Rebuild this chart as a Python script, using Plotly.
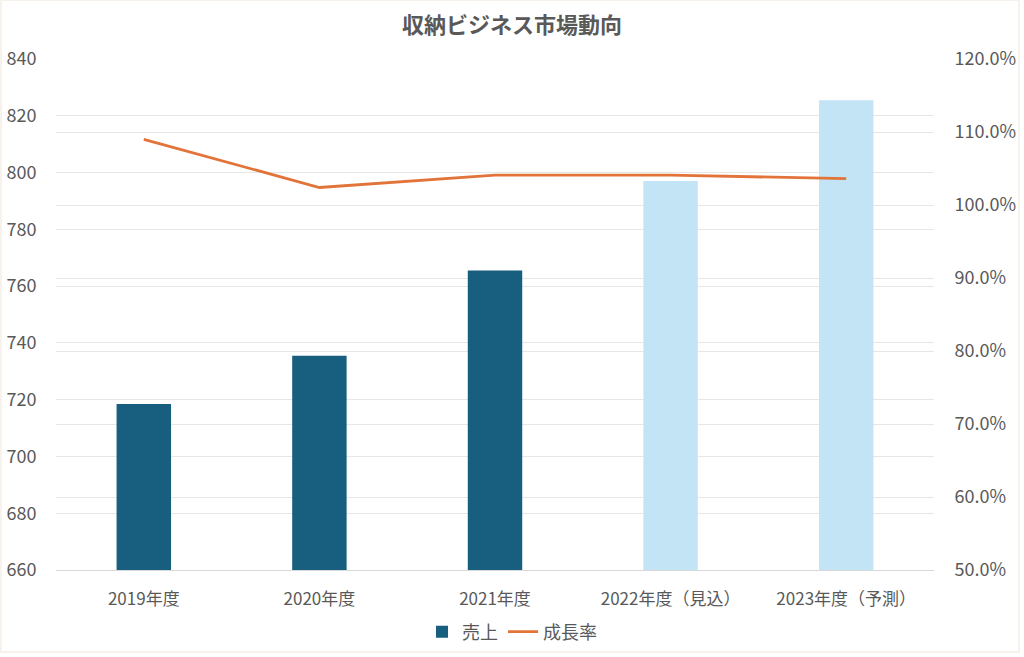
import plotly.graph_objects as go

categories = ["2019年度", "2020年度", "2021年度", "2022年度（見込）", "2023年度（予測）"]
sales = [718.5, 735.5, 765.5, 797, 825.5]
growth = [109.0, 102.4, 104.1, 104.1, 103.6]
bar_colors = ["#175E7F", "#175E7F", "#175E7F", "#C3E4F5", "#C3E4F5"]
left_ticks = [660, 680, 700, 720, 740, 760, 780, 800, 820, 840]
right_ticks = [50, 60, 70, 80, 90, 100, 110, 120]
right_ticktext = [f"{v:.1f}%" for v in right_ticks]

FONT = "Noto Sans CJK JP"
GRAY = "#595959"

fig = go.Figure()
fig.add_trace(go.Bar(
    x=categories, y=sales, name="売上",
    marker=dict(color=bar_colors, line=dict(width=0)),
    yaxis="y",
))
fig.add_trace(go.Scatter(
    x=categories, y=growth, name="成長率", mode="lines",
    line=dict(color="#E2743A", width=2.8),
    yaxis="y2",
))

L, R, T, B = 56, 90, 59, 87
pw = 1024 - L - R
ph = 657 - T - B

fig.update_layout(
    width=1024, height=657,
    margin=dict(l=L, r=R, t=T, b=B, autoexpand=False),
    paper_bgcolor="white", plot_bgcolor="white",
    font=dict(family=FONT, color=GRAY),
    bargap=0.69,
    showlegend=True,
    title=dict(text="収納ビジネス市場動向", x=0.5, xref="container", xanchor="center",
               y=1 - 25 / 657, yref="container", yanchor="middle",
               font=dict(family=FONT, size=22, color=GRAY, weight="bold")),
    xaxis=dict(showgrid=False, tickfont=dict(size=17, color=GRAY),
               showline=True, linecolor="#D9D9D9", linewidth=1, automargin=False,
               ticks="outside", ticklen=14, tickcolor="rgba(0,0,0,0)"),
    yaxis=dict(range=[660, 840], tickvals=left_ticks, showgrid=True,
               gridcolor="#E6E6E6", gridwidth=1, zeroline=False, automargin=False,
               tickfont=dict(size=18, color=GRAY),
               ticks="outside", ticklen=15, tickcolor="rgba(0,0,0,0)"),
    yaxis2=dict(range=[50, 120], tickvals=right_ticks, ticktext=right_ticktext,
                overlaying="y", side="right", showgrid=True, automargin=False,
                gridcolor="#E6E6E6", gridwidth=1, zeroline=False,
                tickfont=dict(size=18, color=GRAY),
                ticks="outside", ticklen=16, tickcolor="rgba(0,0,0,0)"),
    legend=dict(orientation="h", x=(512 - L) / pw, xanchor="center",
                y=(570 - 632) / ph, yanchor="middle",
                font=dict(size=18, color=GRAY), bgcolor="rgba(0,0,0,0)",
                itemwidth=30, tracegroupgap=0),
    shapes=[dict(type="rect", xref="paper", yref="paper",
                 x0=(1 - L) / pw, x1=(1019 - L) / pw,
                 y0=(570 - 652) / ph, y1=(570 - 0) / ph,
                 line=dict(color="#F7F2EC", width=2), layer="below")],
)

fig.write_html("out.html")
